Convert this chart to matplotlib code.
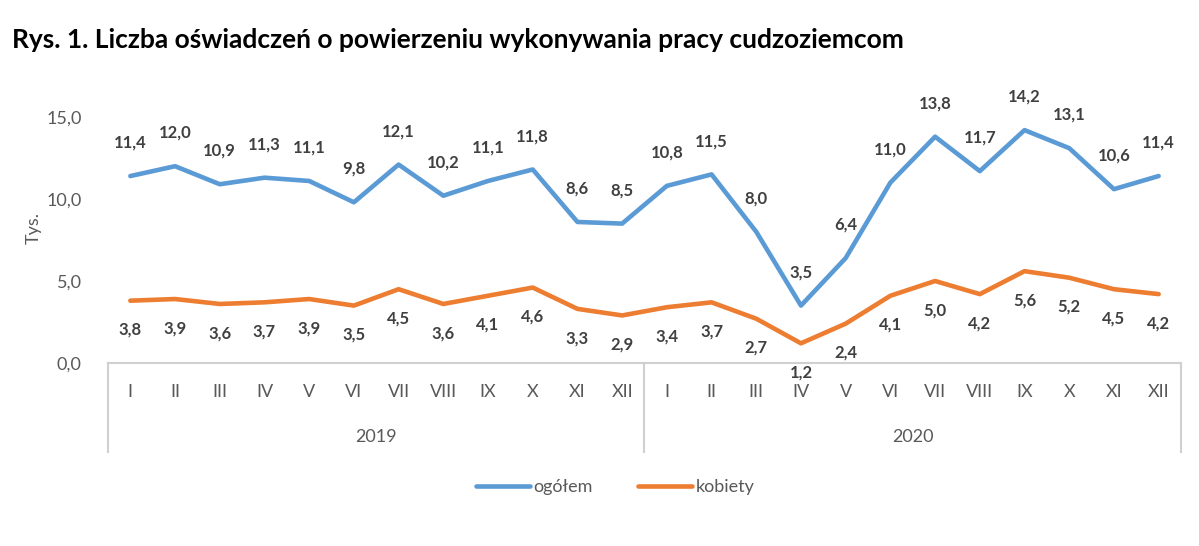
import matplotlib.pyplot as plt
import matplotlib.transforms as mtransforms

months = ["I", "II", "III", "IV", "V", "VI", "VII", "VIII", "IX", "X", "XI", "XII"]
years = ["2019", "2020"]

ogolem = [11.4, 12.0, 10.9, 11.3, 11.1, 9.8, 12.1, 10.2, 11.1, 11.8, 8.6, 8.5,
          10.8, 11.5, 8.0, 3.5, 6.4, 11.0, 13.8, 11.7, 14.2, 13.1, 10.6, 11.4]
kobiety = [3.8, 3.9, 3.6, 3.7, 3.9, 3.5, 4.5, 3.6, 4.1, 4.6, 3.3, 2.9,
           3.4, 3.7, 2.7, 1.2, 2.4, 4.1, 5.0, 4.2, 5.6, 5.2, 4.5, 4.2]

y_ticks = [0, 5, 10, 15]

plt.rcParams["font.family"] = ["Lato", "DejaVu Sans"]

fig = plt.figure(figsize=(11.99, 5.46), dpi=100)
ax = fig.add_axes([108 / 1199, 183 / 546, 1073 / 1199, 270.6 / 546])

n = len(ogolem)
x = list(range(n))
blue = "#5B9BD5"
orange = "#ED7D31"

ax.plot(x, ogolem, color=blue, lw=3.3, solid_joinstyle="round", solid_capstyle="round", label="ogółem")
ax.plot(x, kobiety, color=orange, lw=3.3, solid_joinstyle="round", solid_capstyle="round", label="kobiety")

def fmt(v):
    return f"{v:.1f}".replace(".", ",")

for xi, v in zip(x, ogolem):
    ax.annotate(fmt(v), (xi, v), xytext=(0, 24), textcoords="offset points",
                ha="center", va="center", fontsize=12, fontweight="bold", color="#404040")
for xi, v in zip(x, kobiety):
    ax.annotate(fmt(v), (xi, v), xytext=(0, -21), textcoords="offset points",
                ha="center", va="center", fontsize=12, fontweight="bold", color="#404040")

ax.set_xlim(-0.5, n - 0.5)
ax.set_ylim(0, 16.5)
ax.set_yticks(y_ticks)
ax.set_yticklabels([fmt(t) for t in y_ticks], fontsize=13, color="#595959")
ax.tick_params(axis="y", length=0, pad=19)
ax.set_xticks([])
for s in ["top", "right", "left"]:
    ax.spines[s].set_visible(False)
ax.spines["bottom"].set_color("#D0D0D0")
ax.spines["bottom"].set_linewidth(1.5)

ax.set_ylabel("Tys.", fontsize=13, color="#595959", labelpad=3)

trans = mtransforms.blended_transform_factory(ax.transData, ax.transAxes)
for i in range(n):
    ax.text(i, -0.107, months[i % 12], transform=trans, ha="center", va="center",
            fontsize=13, color="#595959")
for j, yr in enumerate(years):
    ax.text(j * 12 + 5.5, -0.273, yr, transform=trans, ha="center", va="center",
            fontsize=13, color="#595959")
for b in [-0.5, 11.5, 23.5]:
    ax.plot([b, b], [0, -0.33], transform=trans, color="#D0D0D0", lw=1.5, clip_on=False)

leg = fig.legend(loc="center", bbox_to_anchor=(615 / 1199, 1 - 487 / 546), ncol=2,
                 frameon=False, fontsize=13, handlelength=3.0, handletextpad=0.2,
                 columnspacing=2.5)
for t in leg.get_texts():
    t.set_color("#595959")

fig.text(12 / 1199, 1 - 40 / 546, "Rys. 1. Liczba oświadczeń o powierzeniu wykonywania pracy cudzoziemcom",
         ha="left", va="center", fontsize=19, fontweight="bold", color="black")

fig.savefig("out.png", dpi=100)
